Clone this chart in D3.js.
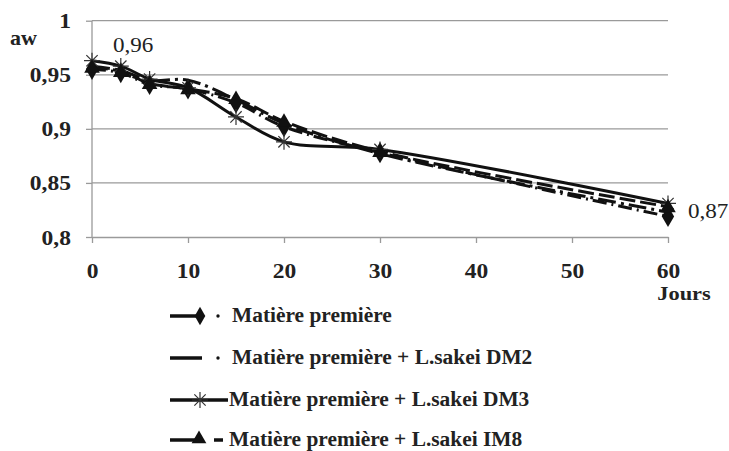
<!DOCTYPE html>
<html><head><meta charset="utf-8">
<script src="https://cdn.jsdelivr.net/npm/d3@7"></script>
<style>body{margin:0;background:#fff}svg{display:block}</style>
</head><body>
<svg id="c" width="729" height="451"></svg>
<script>
const days = [0, 3, 6, 10, 15, 20, 30, 60];
const seriesNames = ["Matière première", "Matière première + L.sakei DM2", "Matière première + L.sakei DM3", "Matière première + L.sakei IM8"];
const mpValues   = [0.955, 0.952, 0.941, 0.937, 0.924, 0.902, 0.878, 0.819];
const dm2Values  = [0.958, 0.954, 0.945, 0.945, 0.927, 0.905, 0.877, 0.823];
const dm3Values  = [0.963, 0.958, 0.946, 0.938, 0.911, 0.888, 0.881, 0.831];
const im8Values  = [0.957, 0.953, 0.942, 0.937, 0.928, 0.907, 0.879, 0.828];
const yTicks = [0.8, 0.85, 0.9, 0.95, 1];
const xTicks = [0, 10, 20, 30, 40, 50, 60];
const yTickLabels = ["0,8", "0,85", "0,9", "0,95", "1"];
const annotations = [{x: 0, v: 0.96, text: "0,96"}, {x: 60, v: 0.87, text: "0,87"}];

const FONT = "font-family:'Liberation Serif';";
const svg = d3.select("#c");
const x = d3.scaleLinear().domain([0, 60]).range([92, 668]);
const y = d3.scaleLinear().domain([0.8, 1]).range([237, 20.7]);

function stext(g, tx, ty, str, size, bold, anchor, sx) {
  return g.append("text")
    .attr("transform", `translate(${tx},${ty}) scale(${sx || 1.12},1)`)
    .attr("text-anchor", anchor || "start")
    .attr("style", FONT + `font-size:${size}px;font-weight:${bold ? "bold" : "normal"};fill:#222`)
    .text(str);
}

// gridlines
svg.append("g").selectAll("line").data(yTicks.slice(1)).join("line")
  .attr("x1", 92).attr("x2", 668).attr("y1", d => y(d)).attr("y2", d => y(d))
  .attr("stroke", "#9a9a9a").attr("stroke-width", 1.3);

// axes
const yAxis = d3.axisLeft(y).tickValues(yTicks).tickSize(6).tickFormat("");
const gy = svg.append("g").attr("transform", "translate(92,0)").call(yAxis);
gy.select(".domain").attr("stroke", "#9a9a9a").attr("stroke-width", 1.3).attr("d", "M0," + y(1) + "V" + y(0.8));
gy.selectAll(".tick line").attr("stroke", "#9a9a9a").attr("stroke-width", 1.3);
gy.selectAll(".tick").each(function(d) {
  stext(d3.select(this), -21, 7, yTickLabels[yTicks.indexOf(d)], 21, true, "end");
});

const xAxis = d3.axisBottom(x).tickValues(xTicks).tickSize(6).tickSizeOuter(0).tickFormat("");
const gx = svg.append("g").attr("transform", "translate(0,237)").call(xAxis);
gx.select(".domain").attr("stroke", "#9a9a9a").attr("stroke-width", 1.3);
gx.selectAll(".tick line").attr("stroke", "#9a9a9a").attr("stroke-width", 1.3);
gx.selectAll(".tick").each(function(d) {
  stext(d3.select(this), 0, 41, d3.format("d")(d), 21, true, "middle");
});

stext(svg, 10, 45, "aw", 21, true, "start", 1.05);
stext(svg, 684, 300, "Jours", 19, true, "middle", 1.18);

const styles = [
  {vals: mpValues,  dash: "14,5,2,5", marker: "diamond"},
  {vals: dm2Values, dash: "18,5,3,5", marker: null},
  {vals: dm3Values, dash: null, marker: "star"},
  {vals: im8Values, dash: "16,5", marker: "triangle"}
];

const line = d3.line().x((d, i) => x(days[i])).y(d => y(d)).curve(d3.curveCatmullRom.alpha(0.5));
const lineG = svg.append("g");
styles.forEach(s => {
  lineG.append("path").attr("d", line(s.vals)).attr("fill", "none").attr("stroke", "#111")
    .attr("stroke-width", 3).attr("stroke-dasharray", s.dash);
});

function drawMarker(g, type, cx, cy, scale) {
  scale = scale || 1;
  if (type === "diamond") {
    g.append("path").attr("d", d3.symbol(d3.symbolDiamond, 130 * scale)()).attr("transform", `translate(${cx},${cy})`).attr("fill", "#111");
  } else if (type === "triangle") {
    g.append("path").attr("d", d3.symbol(d3.symbolTriangle, 105 * scale)()).attr("transform", `translate(${cx},${cy + 1})`).attr("fill", "#111");
  } else if (type === "star") {
    const r = 8 * scale;
    const p = [];
    for (let k = 0; k < 4; k++) {
      const a = k * Math.PI / 4;
      p.push(`M${cx - r * Math.cos(a)},${cy - r * Math.sin(a)}L${cx + r * Math.cos(a)},${cy + r * Math.sin(a)}`);
    }
    g.append("path").attr("d", p.join("")).attr("stroke", "#333").attr("stroke-width", 1.2).attr("fill", "none");
  }
}
const mG = svg.append("g");
styles.forEach(s => {
  if (!s.marker) return;
  s.vals.forEach((v, i) => drawMarker(mG, s.marker, x(days[i]), y(v)));
});

// annotations
stext(svg, 113, 52, annotations[0].text, 21, false, "start", 1.1);
stext(svg, 688, 218, annotations[1].text, 21, false, "start", 1.1);

// legend
const legY = [316, 358, 400, 440];
const lg = svg.append("g");
styles.forEach((s, i) => {
  const yy = legY[i];
  if (i === 0) {
    lg.append("line").attr("x1", 170).attr("x2", 200).attr("y1", yy).attr("y2", yy).attr("stroke", "#111").attr("stroke-width", 3.5);
    drawMarker(lg, "diamond", 200, yy, 0.75);
    lg.append("circle").attr("cx", 218).attr("cy", yy).attr("r", 1.7).attr("fill", "#111");
  } else if (i === 1) {
    lg.append("line").attr("x1", 170).attr("x2", 202).attr("y1", yy).attr("y2", yy).attr("stroke", "#111").attr("stroke-width", 3.5);
    lg.append("circle").attr("cx", 218).attr("cy", yy).attr("r", 1.7).attr("fill", "#111");
  } else if (i === 2) {
    lg.append("line").attr("x1", 170).attr("x2", 228).attr("y1", yy).attr("y2", yy).attr("stroke", "#111").attr("stroke-width", 3.5);
    drawMarker(lg, "star", 200, yy, 1.0);
  } else {
    lg.append("line").attr("x1", 170).attr("x2", 197).attr("y1", yy).attr("y2", yy).attr("stroke", "#111").attr("stroke-width", 3.5);
    drawMarker(lg, "triangle", 199, yy - 2, 0.9);
    lg.append("line").attr("x1", 214).attr("x2", 223).attr("y1", yy).attr("y2", yy).attr("stroke", "#111").attr("stroke-width", 3.5);
  }
  stext(lg, i < 2 ? 232 : 229, yy + 6, seriesNames[i], 20, true, "start", 1.07);
});
</script>
</body></html>
